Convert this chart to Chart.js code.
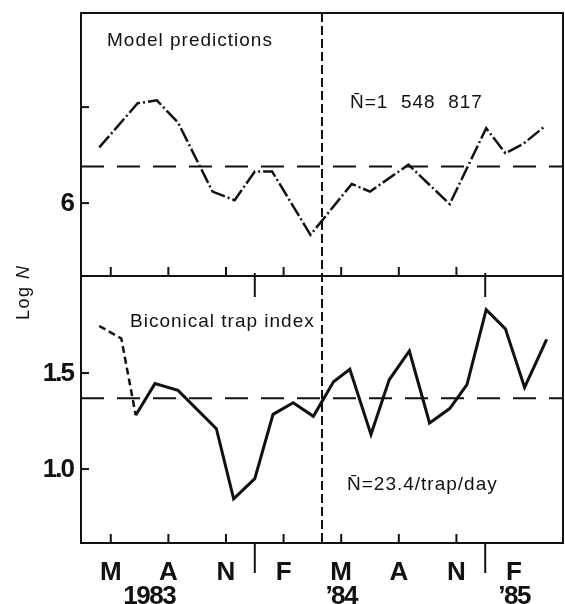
<!DOCTYPE html>
<html>
<head>
<meta charset="utf-8">
<script src="https://cdn.jsdelivr.net/npm/chart.js@4"></script>
<style>
  html, body { margin: 0; padding: 0; background: #fff; }
  #wrap { width: 565px; height: 604px; }
</style>
</head>
<body>
<div id="wrap"><canvas id="chart" width="565" height="604"></canvas></div>
<script>
// x values are months since 1 Jan 1983 (mid-month = .5)
const modelMonths = [3.9, 5.9, 6.9, 8.0, 9.8, 10.95, 12.0, 12.9, 14.9, 17.05, 18.0, 20.0, 22.15, 24.05, 25.05, 26.0, 27.1];
const modelLogN = [6.29, 6.52, 6.535, 6.42, 6.06, 6.015, 6.165, 6.165, 5.835, 6.10, 6.06, 6.20, 5.995, 6.39, 6.26, 6.31, 6.40];

const trapMonths = [3.9, 5.05, 5.8, 6.8, 8.0, 10.0, 10.9, 12.0, 12.95, 14.0, 15.05, 16.1, 16.95, 18.05, 19.0, 20.05, 21.1, 22.15, 23.05, 24.05, 25.05, 26.05, 27.2];
const trapLogN = [1.745, 1.68, 1.28, 1.445, 1.41, 1.21, 0.845, 0.95, 1.285, 1.345, 1.275, 1.455, 1.52, 1.18, 1.465, 1.615, 1.24, 1.315, 1.44, 1.83, 1.73, 1.425, 1.675];

const monthTicks = [4.5, 7.5, 10.5, 13.5, 16.5, 19.5, 22.5];
const monthLabels = ["M", "A", "N", "F", "M", "A", "N", "F"];
const labelMonths = [4.5, 7.5, 10.5, 13.5, 16.5, 19.5, 22.5, 25.5];
const yearDividers = [12, 24];
const yearLabels = ["1983", "\u201984", "\u201985"];
const yearLabelMonths = [6.5, 16.5, 25.5];
const modelTicks = [6, 6.5];
const modelTickLabels = ["6", ""];
const trapTicks = [1.0, 1.5];
const trapTickLabels = ["1.0", "1.5"];

const modelMean = Math.log10(1548817);
const trapMean = Math.log10(23.4);
const splitMonth = 15.5;

const xMin = 2.95, xMax = 28.05;

function toPoints(xs, ys) {
  return xs.map((x, i) => ({ x: x, y: ys[i] }));
}

const frame = {
  id: "frame",
  afterDraw(chart) {
    const ctx = chart.ctx;
    const x = chart.scales.x;
    const y1 = chart.scales.y1;
    const y2 = chart.scales.y2;
    const area = chart.chartArea;
    const mid = y1.bottom;

    ctx.save();
    ctx.strokeStyle = "#111";
    ctx.lineWidth = 2;
    ctx.strokeRect(area.left, area.top, area.right - area.left, area.bottom - area.top);
    ctx.beginPath();
    ctx.moveTo(area.left, mid);
    ctx.lineTo(area.right, mid);
    ctx.stroke();

    // vertical split line
    const sx = x.getPixelForValue(splitMonth);
    ctx.setLineDash([9, 4]);
    ctx.beginPath();
    ctx.moveTo(sx, area.top);
    ctx.lineTo(sx, area.bottom);
    ctx.stroke();
    ctx.setLineDash([]);

    // month ticks
    monthTicks.forEach(m => {
      const px = x.getPixelForValue(m);
      ctx.beginPath();
      ctx.moveTo(px, mid); ctx.lineTo(px, mid - 9);
      ctx.moveTo(px, area.bottom); ctx.lineTo(px, area.bottom - 9);
      ctx.stroke();
    });
    yearDividers.forEach(m => {
      const px = x.getPixelForValue(m);
      ctx.beginPath();
      ctx.moveTo(px, mid - 3); ctx.lineTo(px, mid + 21);
      ctx.moveTo(px, area.bottom); ctx.lineTo(px, area.bottom + 30);
      ctx.stroke();
    });

    // y ticks
    ctx.font = "bold 26px 'Liberation Sans', Arial, sans-serif";
    ctx.letterSpacing = "-2px";
    ctx.fillStyle = "#111";
    ctx.textAlign = "right";
    ctx.textBaseline = "middle";
    modelTicks.forEach((v, i) => {
      const py = y1.getPixelForValue(v);
      ctx.beginPath(); ctx.moveTo(area.left, py); ctx.lineTo(area.left + 8, py); ctx.stroke();
      if (modelTickLabels[i]) ctx.fillText(modelTickLabels[i], 73, py + 1);
    });
    trapTicks.forEach((v, i) => {
      const py = y2.getPixelForValue(v);
      ctx.beginPath(); ctx.moveTo(area.left, py); ctx.lineTo(area.left + 8, py); ctx.stroke();
      ctx.fillText(trapTickLabels[i], 73, py + 1);
    });

    // x labels
    ctx.textAlign = "center";
    ctx.textBaseline = "alphabetic";
    ctx.letterSpacing = "0px";
    monthLabels.forEach((t, i) => {
      ctx.fillText(t, x.getPixelForValue(labelMonths[i]), 580);
    });
    ctx.letterSpacing = "-1.5px";
    yearLabels.forEach((t, i) => {
      ctx.fillText(t, x.getPixelForValue(yearLabelMonths[i]), 604);
    });

    // panel texts
    ctx.letterSpacing = "1px";
    ctx.textAlign = "left";
    ctx.font = "19px 'Liberation Sans', Arial, sans-serif";
    ctx.fillText("Model predictions", 107, 46);
    ctx.fillText("N\u0304=1  548  817", 350, 108);
    ctx.fillText("Biconical trap index", 130, 327);
    ctx.fillText("N\u0304=23.4/trap/day", 347, 490);

    // axis title "Log N", N in italics
    ctx.letterSpacing = "1.5px";
    ctx.translate(24, 320);
    ctx.rotate(-Math.PI / 2);
    ctx.textBaseline = "middle";
    ctx.font = "18px 'Liberation Sans', Arial, sans-serif";
    ctx.fillText("Log ", 0, 0);
    const w = ctx.measureText("Log ").width;
    ctx.font = "italic 18px 'Liberation Sans', Arial, sans-serif";
    ctx.fillText("N", w, 0);
    ctx.restore();
  }
};

new Chart(document.getElementById("chart"), {
  type: "line",
  data: {
    datasets: [
      {
        label: "Model predictions",
        data: toPoints(modelMonths, modelLogN),
        yAxisID: "y1",
        borderColor: "#111",
        borderWidth: 2.5,
        borderDash: [15, 3, 2, 3],
        pointRadius: 0,
        tension: 0
      },
      {
        label: "Model mean",
        data: [{ x: xMin, y: modelMean }, { x: xMax, y: modelMean }],
        yAxisID: "y1",
        borderColor: "#111",
        borderWidth: 2,
        borderDash: [23, 13],
        pointRadius: 0
      },
      {
        label: "Biconical trap index",
        data: toPoints(trapMonths, trapLogN),
        yAxisID: "y2",
        borderColor: "#111",
        borderWidth: 3,
        pointRadius: 0,
        tension: 0,
        segment: {
          borderDash: ctx => ctx.p1DataIndex <= 2 ? [7, 4] : undefined,
          borderWidth: ctx => ctx.p1DataIndex <= 2 ? 2.5 : 3
        }
      },
      {
        label: "Trap mean",
        data: [{ x: xMin, y: trapMean }, { x: xMax, y: trapMean }],
        yAxisID: "y2",
        borderColor: "#111",
        borderWidth: 2,
        borderDash: [23, 13],
        pointRadius: 0
      }
    ]
  },
  options: {
    responsive: false,
    animation: false,
    layout: { padding: { left: 81, right: 2, top: 13, bottom: 61 } },
    plugins: { legend: { display: false }, tooltip: { enabled: false } },
    scales: {
      x: { type: "linear", min: xMin, max: xMax, display: false },
      // stacked scales: the last one listed is placed on top
      y2: { type: "linear", min: 0.615, max: 2.005, display: false, stack: "logn", stackWeight: 1.39 },
      y1: { type: "linear", min: 5.62, max: 6.99, display: false, stack: "logn", stackWeight: 1.37 }
    }
  },
  plugins: [frame]
});
</script>
</body>
</html>
